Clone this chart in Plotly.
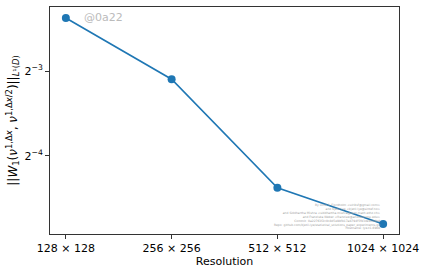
import plotly.graph_objects as go
import math

resolutions = ["128 × 128", "256 × 256", "512 × 512", "1024 × 1024"]
errors = [0.1926, 0.1169, 0.0482, 0.0359]
ytick_vals = [2**-3, 2**-4]
ytick_text = ["2<sup>−3</sup>", "2<sup>−4</sup>"]

xpos = list(range(len(resolutions)))

fig = go.Figure()
fig.add_trace(go.Scatter(
    x=xpos, y=errors, mode="lines+markers",
    line=dict(color="#1f77b4", width=1.6),
    marker=dict(color="#1f77b4", size=8),
    showlegend=False,
))

l2 = math.log10(2)
fig.update_layout(
    width=423, height=274,
    margin=dict(l=50, r=24, t=7, b=40, autoexpand=False),
    paper_bgcolor="white", plot_bgcolor="white",
    font=dict(family="DejaVu Sans", size=11, color="black"),
    xaxis=dict(
        range=[-0.15, 3.15], tickvals=xpos, ticktext=resolutions,
        showgrid=False, zeroline=False, showline=True, mirror=True,
        linecolor="#333333", linewidth=1, ticks="outside", ticklen=4,
        tickcolor="#333333", automargin=False,
        title=dict(text="Resolution", font=dict(size=11), standoff=2),
    ),
    yaxis=dict(
        type="log", range=[-4.918 * l2, -2.247 * l2],
        tickvals=ytick_vals, ticktext=ytick_text,
        showgrid=False, zeroline=False, showline=True, mirror=True,
        linecolor="#333333", linewidth=1, ticks="outside", ticklen=4,
        tickcolor="#333333", automargin=False,
        title=dict(
            text="||<i>W</i><sub>1</sub>(<i>ν</i><sup>1,Δ<i>x</i></sup>, <i>ν</i><sup>1,Δ<i>x</i>/2</sup>)||<sub><i>L</i>¹(<i>D</i>)</sub>",
            font=dict(size=12), standoff=4),
    ),
)

fig.add_annotation(
    xref="paper", yref="paper", x=0.092, y=0.955, xanchor="left", yanchor="middle",
    text="@0a22", showarrow=False, font=dict(size=11, color="#bbbbbb"),
)

credit = ("By Ulrik S. Fjordholm &lt;ulriksf@gmail.com&gt;<br>"
          "and Kjetil Lye &lt;kjetil.lye@sintef.no&gt;<br>"
          "and Siddhartha Mishra &lt;siddhartha.mishra@sam.math.ethz.ch&gt;<br>"
          "and Franziska Weber &lt;franzisw@andrew.cmu.edu&gt;<br>"
          "Commit: 0a22763f2c0c8d5e9bfb17a8794f5f93de9340b9<br>"
          "Repo: github.com/kjetil-lye/statistical_solutions_paper_experiments.git<br>"
          "Hostname: lye-t1-6908")
fig.add_annotation(
    xref="paper", yref="paper", x=0.955, y=0.01, xanchor="right", yanchor="bottom",
    text=credit, showarrow=False, align="right",
    font=dict(size=3, color="#a0a0a0"),
)

fig.write_html("out.html", post_script="document.body.style.margin='0';",
               config={"displayModeBar": False})
